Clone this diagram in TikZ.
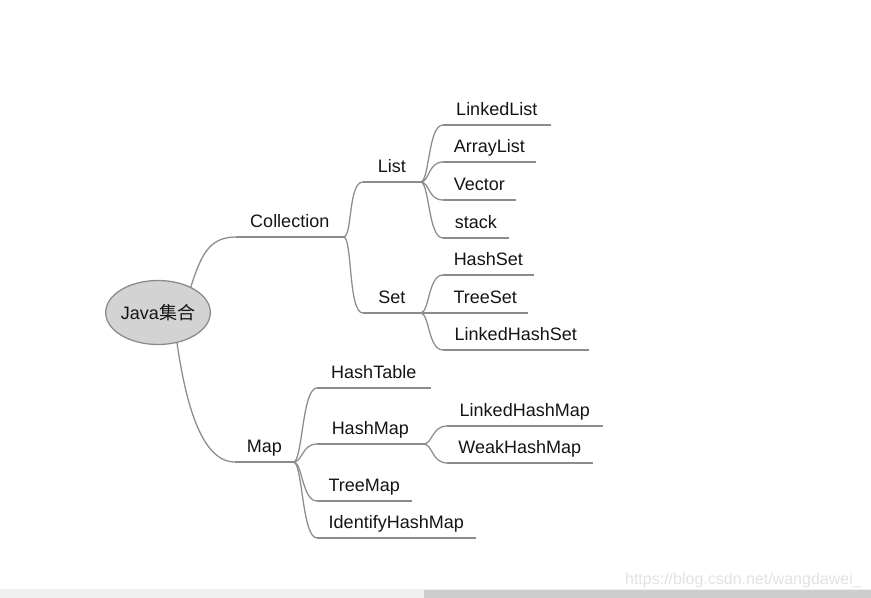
\documentclass[tikz,border=0pt]{standalone}
\usepackage{fontspec}
\setmainfont{Liberation Sans}
\newfontfamily\cjk{Noto Sans CJK SC}
\usetikzlibrary{shapes.geometric}
\definecolor{linegray}{HTML}{8C8C8C}
\definecolor{ellfill}{HTML}{D3D3D3}
\definecolor{ellline}{HTML}{8A8A8A}
\definecolor{txt}{HTML}{141414}
\definecolor{wmark}{HTML}{E2E2E2}
\definecolor{barlight}{HTML}{F0F0F0}
\definecolor{bardark}{HTML}{CDCDCD}
\tikzset{
  topic/.style={anchor=south west, inner xsep=0pt, inner ysep=0pt,
    text height=9.6pt, text depth=6.6pt, align=center, font=\fontsize{13.5}{15}\selectfont,
    text=txt, append after command={
      \pgfextra{\draw[conn] (\tikzlastnode.south west) -- (\tikzlastnode.south east);}}},
  uw/.style={minimum width=#1*0.75pt},
  conn/.style={draw=linegray, line width=0.95pt},
  mmcurve/.style={to path={.. controls +(9,0) and +(-15,0) .. (\tikztotarget)}}
}
\begin{document}
\begin{tikzpicture}[x=0.75pt,y=-0.75pt]
\useasboundingbox (0,0) rectangle (871,598);
% scroll bar
\fill[barlight] (0,589) rectangle (871,598);
\fill[bardark] (424,590) rectangle (871,598);
\node[anchor=east, text=wmark, font=\fontsize{12}{14}\selectfont, inner sep=0pt] (wm) at (862,580) {https://blog.csdn.net/wangdawei\_};
% root
\node[ellipse, draw=ellline, fill=ellfill, line width=0.95pt, minimum width=74pt, minimum height=48pt, inner sep=0pt,
  font=\fontsize{13.5}{15}\selectfont, text=txt] (root) at (158,312.5) {Java{\cjk 集合}};
% level 1
\node[topic, uw=107] (coll) at (236,237) {Collection};
\node[topic, uw=58] (map) at (235,462) {Map};
% level 2
\node[topic, uw=57] (list) at (363,182) {List};
\node[topic, uw=57] (set) at (363,313) {Set};
\node[topic, uw=113] (htab) at (317,388) {HashTable};
\node[topic, uw=106] (hmap) at (317,444) {HashMap};
\node[topic, uw=94] (tmap) at (317,501) {TreeMap};
\node[topic, uw=158] (imap) at (317,538) {IdentifyHashMap};
% level 3
\node[topic, uw=107] (llist) at (443,125) {LinkedList};
\node[topic, uw=92] (alist) at (443,162) {ArrayList};
\node[topic, uw=72] (vec) at (443,200) {Vector};
\node[topic, uw=65] (stk) at (443,238) {stack};
\node[topic, uw=90] (hset) at (443,275) {HashSet};
\node[topic, uw=84] (tset) at (443,313) {TreeSet};
\node[topic, uw=145] (lhset) at (443,350) {LinkedHashSet};
\node[topic, uw=155] (lhmap) at (447,426) {LinkedHashMap};
\node[topic, uw=145] (whmap) at (447,463) {WeakHashMap};
% connectors
\draw[conn] (root.38) .. controls +(10,-30) and +(-28,0) .. (coll.south west);
\draw[conn] (root.-58) .. controls +(8,55) and +(-35,0) .. (map.south west);
\foreach \a/\b in {coll/list, coll/set, list/llist, list/alist, list/vec, list/stk,
  set/hset, set/tset, set/lhset, map/htab, map/hmap, map/tmap, map/imap,
  hmap/lhmap, hmap/whmap}
  \draw[conn] (\a.south east) to[mmcurve] (\b.south west);
\end{tikzpicture}
\end{document}
